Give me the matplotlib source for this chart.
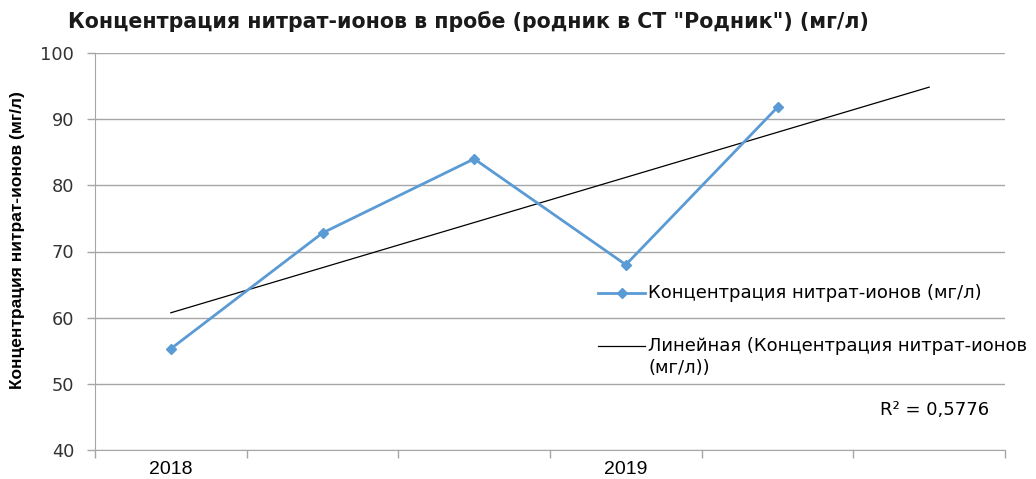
import numpy as np
import matplotlib.pyplot as plt
from matplotlib.lines import Line2D

# data
categories = ["2018", "", "", "2019", "", ""]
nitrate = [55.3, 72.8, 84.0, 68.0, 91.8]
r2_label = "R² = 0,5776"

title = 'Концентрация нитрат-ионов в пробе (родник в СТ "Родник") (мг/л)'
ylabel = "Концентрация нитрат-ионов (мг/л)"
series_label = "Концентрация нитрат-ионов (мг/л)"
trend_label = "Линейная (Концентрация нитрат-ионов\n(мг/л))"

BLUE = "#5b9bd5"
GRID = "#a6a6a6"
NARROW = ["Liberation Sans", "DejaVu Sans"]
W, H = 1036, 479

fig = plt.figure(figsize=(W / 100, H / 100), dpi=100)
ax = fig.add_axes([95 / W, 1 - 450 / H, 910 / W, 397 / H])

x = np.arange(len(nitrate))
ax.plot(x, nitrate, color=BLUE, linewidth=2, marker="D", markersize=5.5,
        zorder=3)

# linear trend, forecast one period forward (as in the spreadsheet chart)
slope, intercept = np.polyfit(x, nitrate, 1)
xt = np.arange(len(categories))
ax.plot(xt, slope * xt + intercept, color="black", linewidth=0.9, zorder=2)

ax.set_xlim(-0.5, len(categories) - 0.5)
ax.set_ylim(40, 100)
ax.set_yticks(range(40, 101, 10))
ax.grid(True, axis="y", color=GRID, linewidth=1)
ax.set_axisbelow(True)

# category boundaries as major ticks, labels on minor ticks
ax.set_xticks(np.arange(-0.5, len(categories), 1.0))
ax.set_xticklabels([])
ax.set_xticks(np.arange(len(categories)), minor=True)
ax.set_xticklabels(categories, minor=True, fontsize=14, family=NARROW)
ax.tick_params(axis="x", which="major", length=6, color=GRID, width=1)
ax.tick_params(axis="x", which="minor", length=0, pad=8)
ax.tick_params(axis="y", length=6, color=GRID, width=1, labelsize=12.8,
               labelcolor="#333333", pad=9)

for side in ("top", "right"):
    ax.spines[side].set_visible(False)
for side in ("left", "bottom"):
    ax.spines[side].set_color(GRID)

fig.text(68 / W, 1 - 22 / H, title, fontsize=14.8, fontweight="bold",
         va="center", ha="left", color="#1a1a1a")
fig.text(18 / W, 1 - 240 / H, ylabel, rotation=90, fontsize=12.5,
         fontweight="bold", va="center", ha="center", family=NARROW)


# legend entries laid out like the spreadsheet legend (handle on first line)
def legend_entry(y_px, label, marker=None, **line_kw):
    y = 1 - y_px / H
    fig.add_artist(Line2D([598 / W, 645 / W], [y, y],
                          transform=fig.transFigure, **line_kw))
    if marker:
        fig.add_artist(Line2D([621.5 / W], [y], transform=fig.transFigure,
                              color=line_kw["color"], marker=marker,
                              markersize=5, linestyle="none"))
    fig.text(648 / W, 1 - (y_px - 9) / H, label, fontsize=13, va="top",
             ha="left", linespacing=1.32)


legend_entry(293, series_label, marker="D", color=BLUE, linewidth=2)
legend_entry(346, trend_label, color="black", linewidth=0.9)

fig.text(880 / W, 1 - 410 / H, r2_label, fontsize=13, va="center",
         ha="left")

fig.savefig("out.png", dpi=100)
